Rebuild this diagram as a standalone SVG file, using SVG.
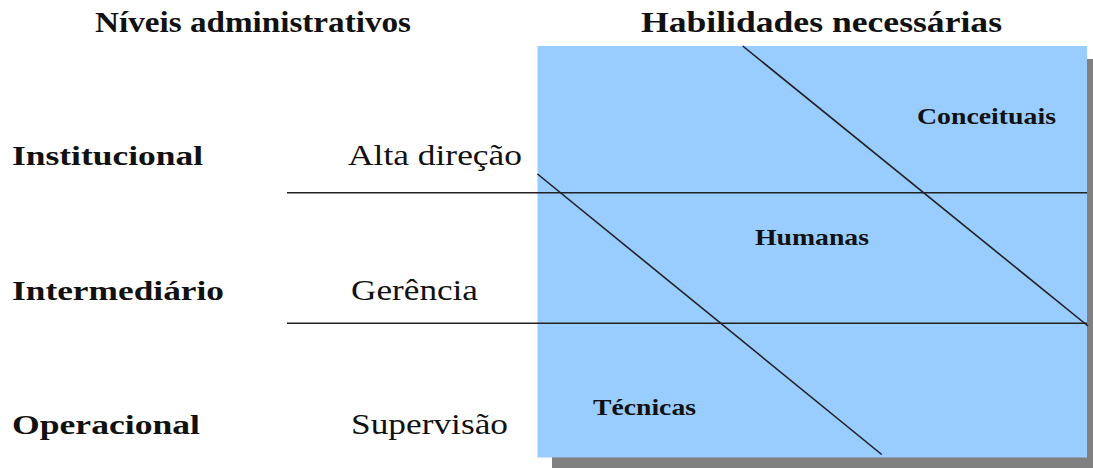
<svg xmlns="http://www.w3.org/2000/svg" width="1093" height="468" viewBox="0 0 1093 468">
<style>
text{font-family:"Liberation Serif","Times New Roman",serif;fill:#111}
.h{font-weight:bold;font-size:28.5px}
.b{font-weight:bold;font-size:28px}
.n{font-size:28.5px}
.s{font-weight:bold;font-size:23.5px}
.ln{stroke:#222;stroke-width:1.6;fill:none}
</style>
<rect width="1093" height="468" fill="#fff"/>
<g id="headers">
<text class="h" x="95" y="32" textLength="316" lengthAdjust="spacingAndGlyphs">Níveis administrativos</text>
<text class="h" x="641" y="32" textLength="361" lengthAdjust="spacingAndGlyphs">Habilidades necessárias</text>
</g>
<g id="panel">
<rect x="552" y="59" width="541" height="409" fill="#808080"/>
<rect x="537.5" y="46" width="549.5" height="411.5" fill="#99CCFF"/>
</g>
<g id="connectors">
<line class="ln" x1="287" y1="192.7" x2="1087" y2="192.7"/>
<line class="ln" x1="287" y1="323.3" x2="1087" y2="323.3"/>
<line class="ln" x1="742.7" y1="46" x2="1088" y2="326"/>
<line class="ln" x1="537.5" y1="174" x2="881.7" y2="454.5"/>
</g>
<g id="level-institucional">
<text class="b" x="12" y="165" textLength="191" lengthAdjust="spacingAndGlyphs">Institucional</text>
<text class="n" x="348" y="165" textLength="174" lengthAdjust="spacingAndGlyphs">Alta direção</text>
</g>
<g id="level-intermediario">
<text class="b" x="12" y="299.5" textLength="212" lengthAdjust="spacingAndGlyphs">Intermediário</text>
<text class="n" x="351" y="299.5" textLength="127" lengthAdjust="spacingAndGlyphs">Gerência</text>
</g>
<g id="level-operacional">
<text class="b" x="12" y="434" textLength="188" lengthAdjust="spacingAndGlyphs">Operacional</text>
<text class="n" x="351" y="434" textLength="157" lengthAdjust="spacingAndGlyphs">Supervisão</text>
</g>
<g id="skill-conceituais">
<text class="s" x="917" y="124" textLength="139" lengthAdjust="spacingAndGlyphs">Conceituais</text>
</g>
<g id="skill-humanas">
<text class="s" x="755" y="244.5" textLength="114" lengthAdjust="spacingAndGlyphs">Humanas</text>
</g>
<g id="skill-tecnicas">
<text class="s" x="593" y="414.5" textLength="103" lengthAdjust="spacingAndGlyphs">Técnicas</text>
</g>
</svg>
